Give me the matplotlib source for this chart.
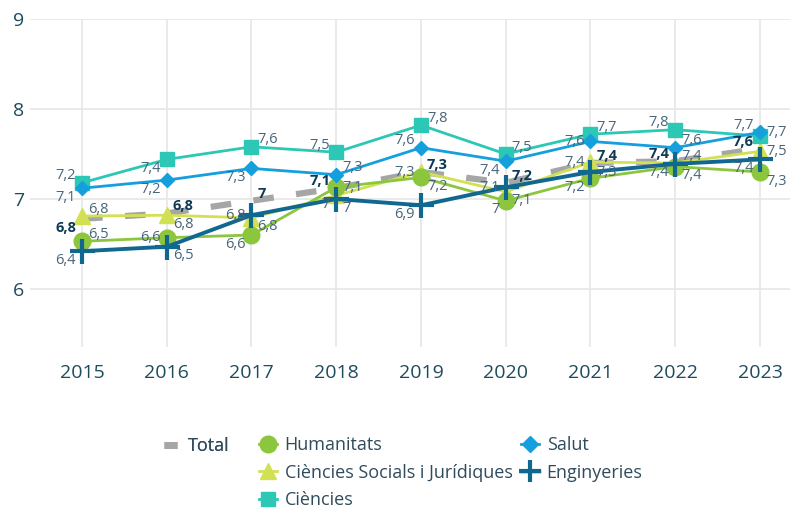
import matplotlib
matplotlib.use('Agg')
import matplotlib.pyplot as plt
from matplotlib.lines import Line2D

plt.rcParams['font.family'] = ['Open Sans', 'DejaVu Sans']

years = [2015, 2016, 2017, 2018, 2019, 2020, 2021, 2022, 2023]

total = [6.78, 6.84, 6.98, 7.12, 7.30, 7.18, 7.40, 7.42, 7.56]
humanitats = [6.53, 6.57, 6.60, 7.13, 7.24, 6.98, 7.23, 7.36, 7.30]
socials = [6.81, 6.82, 6.79, 7.04, 7.30, 7.08, 7.41, 7.40, 7.53]
ciencies = [7.18, 7.44, 7.58, 7.52, 7.82, 7.50, 7.72, 7.77, 7.70]
salut = [7.12, 7.21, 7.34, 7.27, 7.57, 7.42, 7.64, 7.57, 7.74]
enginyeries = [6.42, 6.47, 6.82, 7.00, 6.93, 7.13, 7.30, 7.39, 7.44]

# where each value label sits: l/r = side, u/d = up/down, U = further up
pos_total = ['ld', 'ru', 'ru', 'lu', 'ru', 'ru', 'ru', 'lu', 'lu']
pos_hum = ['ru', 'l', 'ld', 'r', 'rd', 'ld', 'ld', 'rd', 'rd']
pos_soc = ['ru', 'rd', 'rd', 'ld', 'l', 'rd', 'l', 'ld', 'r']
pos_cie = ['lu', 'ld', 'ru', 'lu', 'ru', 'ru', 'ru', 'lu', 'lU']
pos_sal = ['ld', 'ld', 'ld', 'ru', 'lu', 'ld', 'l', 'ru', 'r']
pos_eng = ['ld', 'rd', 'l', 'rd', 'ld', 'l', 'r', 'ru', 'ld']

c_total = '#a6a6a6'
c_hum = '#8cc63f'
c_soc = '#d2e154'
c_cie = '#2cc7b5'
c_sal = '#159fdd'
c_eng = '#106891'
c_lab = '#48657a'
c_bold = '#0c3a55'

fig = plt.figure(figsize=(7.97, 5.11), dpi=100)
ax = fig.add_axes([30/797, 1 - 347/511, 760/797, 328/511])


def fmt(v):
    s = '%.1f' % round(v, 1)
    if s.endswith('.0'):
        s = s[:-2]
    return s.replace('.', ',')


def labels(vals, pos, bold=False):
    for x, v, p in zip(years, vals, pos):
        dx = -6 if p[0] == 'l' else 6
        ha = 'right' if p[0] == 'l' else 'left'
        dy = 0
        if 'U' in p:
            dy = 11
        elif 'u' in p:
            dy = 7
        elif 'd' in p:
            dy = -9
        ax.annotate(fmt(v), (x, v), xytext=(dx, dy), textcoords='offset pixels',
                    ha=ha, va='center', fontsize=10.5,
                    color=c_bold if bold else c_lab,
                    fontweight='bold' if bold else 'normal', zorder=10)


ax.plot(years, total, color=c_total, lw=4.5, dashes=(3.3, 3.6),
        solid_capstyle='butt', dash_capstyle='butt', zorder=2)
ax.plot(years, socials, color=c_soc, lw=2, marker='^', ms=12, zorder=3)
ax.plot(years, humanitats, color=c_hum, lw=2, marker='o', ms=12, zorder=4)
ax.plot(years, ciencies, color=c_cie, lw=2, marker='s', ms=10, zorder=5)
ax.plot(years, salut, color=c_sal, lw=2, marker='D', ms=7, zorder=6)
ax.plot(years, enginyeries, color=c_eng, lw=2.8, marker='+', ms=18, mew=3, zorder=7)

labels(ciencies, pos_cie)
labels(salut, pos_sal)
labels(socials, pos_soc)
labels(humanitats, pos_hum)
labels(enginyeries, pos_eng)
labels(total, pos_total, bold=True)

ax.set_xlim(2015 - 52/84.75, 2023 + 30/84.75)
ax.set_ylim(9 - 328/90, 9)
ax.set_xticks(years)
ax.set_yticks([6, 7, 8, 9])
ax.grid(True, color='#e8e8e8', lw=1.3)
ax.set_axisbelow(True)
for s in ax.spines.values():
    s.set_visible(False)
ax.tick_params(length=0, labelsize=14, colors='#1e4b5e')
ax.tick_params(axis='x', pad=12)
ax.tick_params(axis='y', pad=4)

# legend: Total on its own, the five fields in two columns
h_total = [Line2D([], [], color=c_total, lw=5, solid_capstyle='butt')]
leg1 = fig.legend(h_total, ['Total'], loc='upper left',
                  bbox_to_anchor=(148/797, 1 - 421/511), frameon=False,
                  fontsize=13, handlelength=0.7, handletextpad=0.6,
                  labelcolor='#2f4b5c')
fig.add_artist(leg1)
h_rest = [
    Line2D([], [], color=c_hum, lw=2, marker='o', ms=12),
    Line2D([], [], color=c_soc, lw=2, marker='^', ms=12),
    Line2D([], [], color=c_cie, lw=2, marker='s', ms=10),
    Line2D([], [], color=c_sal, lw=2, marker='D', ms=8),
    Line2D([], [], color=c_eng, lw=2.5, marker='+', ms=16, mew=3),
]
names = ['Humanitats', 'Ciències Socials i Jurídiques', 'Ciències', 'Salut', 'Enginyeries']
fig.legend(h_rest, names, loc='upper left', ncol=2,
           bbox_to_anchor=(243/797, 1 - 420/511), frameon=False,
           fontsize=13, handlelength=1.0, handletextpad=0.4,
           columnspacing=0.5, labelspacing=0.52, labelcolor='#2f4b5c')

fig.savefig('out.png', dpi=100)
